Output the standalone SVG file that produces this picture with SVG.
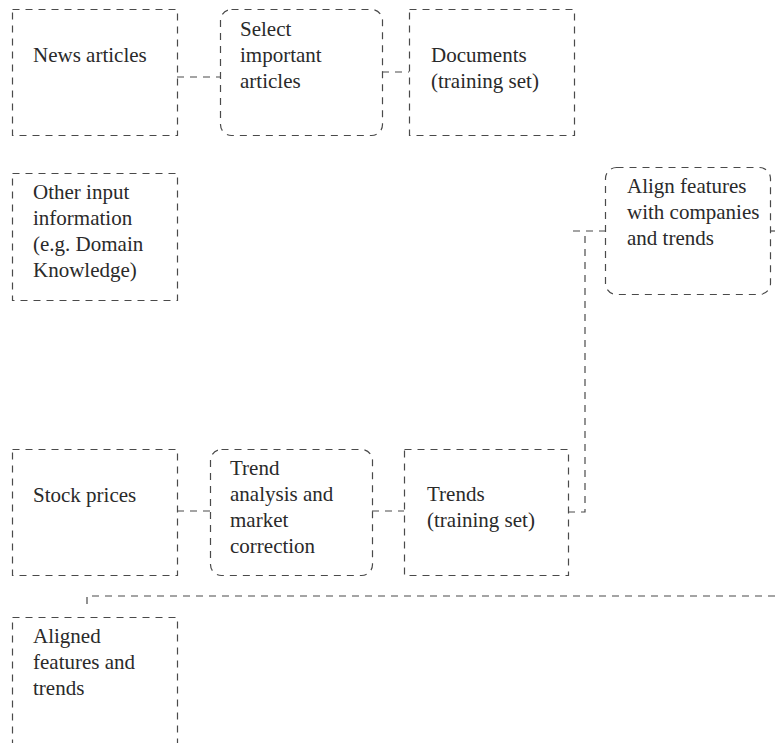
<svg xmlns="http://www.w3.org/2000/svg" width="775" height="743" viewBox="0 0 775 743">
  <style>
    .box { fill: none; stroke: #4a4a4a; stroke-width: 1.2; stroke-dasharray: 7 6; }
    .wire { fill: none; stroke: #4a4a4a; stroke-width: 1.2; stroke-dasharray: 7 6; }
    .lbl { font-size: 21px; fill: #2a2a2a; }
  </style>
  <rect width="775" height="743" fill="#fff"/>

  <g id="connectors">
    <path class="wire" d="M177,77 H220"/>
    <path class="wire" d="M382,72 H409"/>
    <path class="wire" d="M177,511 H210"/>
    <path class="wire" d="M372,511 H404"/>
    <path class="wire" d="M568,512 H585 V231"/>
    <path class="wire" d="M573,231 H605"/>
    <path class="wire" d="M770,231 H775"/>
    <path class="wire" d="M775,596 H87 V610"/>
  </g>

  <g font-family="Liberation Serif, Times New Roman, DejaVu Serif, serif">
  <g id="news-articles">
    <rect class="box" x="12.5" y="9.5" width="165" height="126"/>
    <text class="lbl" x="33" y="62">News articles</text>
  </g>

  <g id="select-articles">
    <rect class="box" x="220.5" y="9.5" width="162" height="126" rx="11"/>
    <text class="lbl" x="240" y="36">Select</text>
    <text class="lbl" x="240" y="62">important</text>
    <text class="lbl" x="240" y="88">articles</text>
  </g>

  <g id="documents">
    <rect class="box" x="409.5" y="9.5" width="165" height="126"/>
    <text class="lbl" x="431" y="62">Documents</text>
    <text class="lbl" x="431" y="88">(training set)</text>
  </g>

  <g id="other-input">
    <rect class="box" x="12.5" y="173.5" width="165" height="127"/>
    <text class="lbl" x="33" y="199">Other input</text>
    <text class="lbl" x="33" y="225">information</text>
    <text class="lbl" x="33" y="251">(e.g. Domain</text>
    <text class="lbl" x="33" y="277">Knowledge)</text>
  </g>

  <g id="align-features">
    <rect class="box" x="605.5" y="167.5" width="165" height="127" rx="11"/>
    <text class="lbl" x="627" y="193">Align features</text>
    <text class="lbl" x="627" y="219">with companies</text>
    <text class="lbl" x="627" y="245">and trends</text>
  </g>

  <g id="stock-prices">
    <rect class="box" x="12.5" y="449.5" width="165" height="126"/>
    <text class="lbl" x="33" y="502">Stock prices</text>
  </g>

  <g id="trend-analysis">
    <rect class="box" x="210.5" y="449.5" width="162" height="126" rx="11"/>
    <text class="lbl" x="230" y="475">Trend</text>
    <text class="lbl" x="230" y="501">analysis and</text>
    <text class="lbl" x="230" y="527">market</text>
    <text class="lbl" x="230" y="553">correction</text>
  </g>

  <g id="trends">
    <rect class="box" x="404.5" y="449.5" width="164" height="126"/>
    <text class="lbl" x="427" y="501">Trends</text>
    <text class="lbl" x="427" y="527">(training set)</text>
  </g>

  <g id="aligned-features">
    <rect class="box" x="12.5" y="617.5" width="165" height="140"/>
    <text class="lbl" x="33" y="643">Aligned</text>
    <text class="lbl" x="33" y="669">features and</text>
    <text class="lbl" x="33" y="695">trends</text>
  </g>
  </g>
</svg>
